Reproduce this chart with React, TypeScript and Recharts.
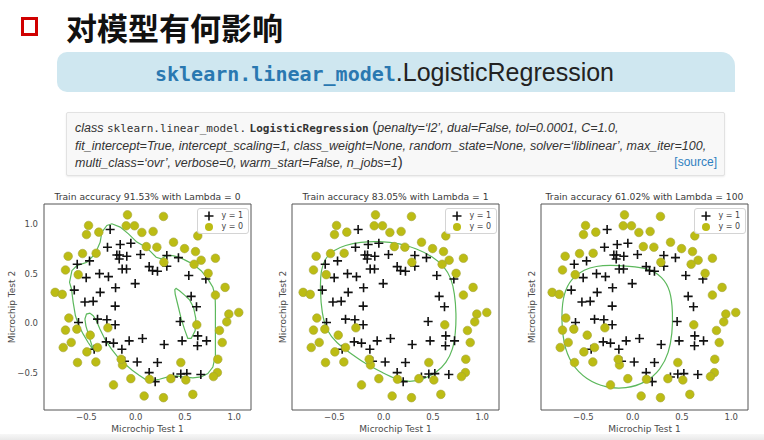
import React from "react";
import { ScatterChart, Scatter, XAxis, YAxis, ReferenceArea, Legend } from "recharts";

// microchip test scores
const acceptedPairs = [
  [-0.259, 0.944], [-0.286, 0.766], [-0.157, 0.793], [-0.049, 0.806], [-0.191, 0.688],
  [-0.164, 0.688], [-0.167, 0.648], [-0.09, 0.675], [0.049, 0.692], [0.137, 0.571],
  [0.171, 0.531], [0.221, 0.524], [0.316, 0.682], [0.316, 0.574], [0.434, 0.661],
  [0.539, 0.481], [0.712, 0.447], [-0.593, 0.594], [-0.468, 0.628], [-0.502, 0.46],
  [-0.367, 0.5], [-0.276, 0.47], [-0.137, 0.547], [-0.093, 0.547], [-0.204, 0.359],
  [-0.005, 0.4], [-0.623, 0.335], [-0.36, 0.312], [-0.515, 0.215], [-0.431, 0.222],
  [-0.208, 0.174], [0.563, 0.272], [0.617, 0.168], [-0.58, 0.01], [-0.387, 0.043],
  [-0.292, 0.037], [-0.208, -0.014], [0.451, 0.02], [0.63, -0.125], [0.719, -0.175],
  [0.627, -0.225], [0.471, -0.175], [0.289, -0.212], [0.069, -0.151], [-0.066, -0.175],
  [-0.225, -0.198], [-0.299, -0.185], [-0.14, -0.259], [-0.421, -0.259], [-0.113, -0.38],
  [0.015, -0.387], [0.221, -0.393], [0.137, -0.494], [0.198, -0.585], [0.383, -0.538],
  [0.458, -0.508], [0.519, -0.504], [0.661, -0.514],
];

const rejectedPairs = [
  [-0.083, 1.091], [0.282, 1.075], [-0.478, 0.984], [-0.499, 0.893], [-0.374, 0.917],
  [-0.096, 0.981], [-0.012, 0.981], [0.063, 0.914], [0.177, 0.924], [0.63, 0.88],
  [-0.685, 0.675], [-0.539, 0.702], [-0.401, 0.705], [0.215, 0.766], [0.108, 0.772],
  [0.384, 0.816], [0.496, 0.752], [0.607, 0.722], [0.664, 0.635], [0.809, 0.655],
  [-0.712, 0.537], [-0.583, 0.49], [0.286, 0.615], [0.593, 0.594], [0.735, 0.503],
  [-0.817, 0.312], [-0.745, 0.292], [0.809, 0.285], [0.907, 0.362], [1.046, 0.11],
  [0.945, 0.094], [0.924, 0.016], [0.85, -0.071], [-0.678, 0.054], [-0.712, -0.067],
  [-0.654, -0.191], [-0.735, -0.242], [-0.461, -0.118], [-0.495, -0.286], [-0.387, -0.242],
  [-0.282, -0.044], [0.62, -0.014], [-0.59, -0.393], [-0.404, -0.387], [-0.134, -0.417],
  [-0.147, -0.36], [0.458, -0.393], [0.833, -0.36], [0.829, -0.494], [0.789, -0.534],
  [0.14, -0.561], [0.357, -0.555], [0.509, -0.568], [-0.225, -0.618], [0.086, -0.729],
  [0.282, -0.746], [0.58, -0.713], [0.878, -0.192], [-0.597, -0.057], [-0.049, -0.555],
];

// decision boundaries (traced)
const boundaryLambda0 = [
  [-0.671, 0.413], [-0.647, 0.53], [-0.596, 0.581], [-0.495, 0.615], [-0.411, 0.699],
  [-0.36, 0.817], [-0.343, 0.917], [-0.292, 0.984], [-0.241, 1.001], [-0.157, 0.968],
  [-0.073, 0.9], [0.012, 0.817], [0.106, 0.766], [0.157, 0.716], [0.208, 0.665],
  [0.259, 0.648], [0.309, 0.681], [0.377, 0.681], [0.444, 0.665], [0.512, 0.631],
  [0.58, 0.598], [0.664, 0.53], [0.732, 0.447], [0.783, 0.363], [0.806, 0.278],
  [0.809, 0.164], [0.809, -0.057], [0.809, -0.32], [0.783, -0.438], [0.732, -0.504],
  [0.664, -0.538], [0.58, -0.548], [0.479, -0.538], [0.411, -0.528], [0.327, -0.538],
  [0.241, -0.561], [0.174, -0.572], [0.106, -0.567], [0.035, -0.521], [-0.035, -0.471],
  [-0.106, -0.41], [-0.177, -0.343], [-0.245, -0.259], [-0.312, -0.158], [-0.363, -0.057],
  [-0.398, 0.026], [-0.431, 0.077], [-0.465, 0.104], [-0.499, 0.094], [-0.515, 0.043],
  [-0.505, -0.024], [-0.475, -0.125], [-0.448, -0.209], [-0.424, -0.276], [-0.482, -0.192],
  [-0.532, -0.108], [-0.576, -0.024], [-0.611, 0.077], [-0.634, 0.212], [-0.651, 0.346],
];
const islandLambda0 = [
  [0.411, 0.352], [0.445, 0.329], [0.502, 0.279], [0.546, 0.238], [0.587, 0.161],
  [0.61, 0.05], [0.603, -0.074], [0.563, -0.151], [0.529, -0.151], [0.495, -0.057],
  [0.461, 0.05], [0.428, 0.185], [0.401, 0.295], [0.397, 0.339],
];
const boundaryLambda1 = [
  [-0.241, 0.819], [-0.038, 0.826], [0.164, 0.803], [0.332, 0.753], [0.501, 0.669],
  [0.619, 0.569], [0.686, 0.453], [0.72, 0.303], [0.737, 0.103], [0.73, -0.097],
  [0.703, -0.264], [0.636, -0.397], [0.535, -0.497], [0.4, -0.564], [0.265, -0.591],
  [0.13, -0.564], [-0.005, -0.497], [-0.173, -0.414], [-0.342, -0.297], [-0.477, -0.197],
  [-0.578, -0.081], [-0.628, 0.103], [-0.645, 0.336], [-0.638, 0.536], [-0.595, 0.653],
  [-0.51, 0.736], [-0.392, 0.786],
];
const boundaryLambda100 = [
  [-0.237, 0.586], [-0.035, 0.576], [0.166, 0.553], [0.301, 0.469], [0.385, 0.336],
  [0.408, 0.103], [0.402, -0.097], [0.368, -0.297], [0.284, -0.464], [0.133, -0.597],
  [-0.069, -0.657], [-0.271, -0.647], [-0.472, -0.564], [-0.623, -0.414], [-0.707, -0.197],
  [-0.724, 0.103], [-0.7, 0.303], [-0.623, 0.453], [-0.489, 0.543], [-0.371, 0.576],
];

const accuracies = ["91.53%", "83.05%", "61.02%"];
const lambdas = ["0", "1", "100"];
const legendOrder = ["y = 1", "y = 0"];
const axisTicks = [-0.5, 0, 0.5, 1.0];
const xDomain = [-0.93, 1.17];
const yDomain = [-0.87, 1.2];

const toPoints = (pairs: number[][]) => pairs.map(([x, y]) => ({ x, y }));
const accepted = toPoints(acceptedPairs);
const rejected = toPoints(rejectedPairs);

const panels = [
  { frameLeft: 44, yTicks: true, yLabelGap: 32, boundaries: [boundaryLambda0, islandLambda0], curve: "linearClosed" },
  { frameLeft: 292, yTicks: false, yLabelGap: 9, boundaries: [boundaryLambda1], curve: "basisClosed" },
  { frameLeft: 541, yTicks: false, yLabelGap: 9, boundaries: [boundaryLambda100], curve: "basisClosed" },
];

const FRAME_TOP = 204;
const FRAME_W = 207;
const FRAME_H = 206;
const Y_AXIS_W = 44;
const X_AXIS_H = 28;
const font = "'DejaVu Sans', sans-serif";
const olive = "#bcbc14";
const green = "#5cb85c";

const fmt = (v: number) => v.toFixed(1).replace("-", "\u2212");

const PlusMark = (props: any) => {
  const { cx, cy } = props;
  return (
    <path
      d={`M${cx - 4.5},${cy}H${cx + 4.5}M${cx},${cy - 4.5}V${cy + 4.5}`}
      stroke="#111"
      strokeWidth={1.6}
    />
  );
};

const DotMark = (props: any) => (
  <circle cx={props.cx} cy={props.cy} r={4.3} fill={olive} stroke="#a4a43a" strokeWidth={0.6} />
);

const LegendBox = (props: any) => {
  // only the two classes, matplotlib order
  const items = legendOrder.filter((name) =>
    (props.payload || []).some((entry: any) => entry.value === name)
  );
  return (
    <div
      style={{
        border: "1px solid #d4d4d4",
        borderRadius: 3,
        background: "rgba(255,255,255,0.9)",
        padding: "1px 5px 1px 5px",
        fontFamily: font,
        fontSize: 8,
        color: "#444",
        lineHeight: "11px",
      }}
    >
      {items.map((name) => (
        <div key={name} style={{ display: "flex", alignItems: "center" }}>
          <svg width={12} height={10} style={{ marginRight: 6 }}>
            {name === "y = 1" ? (
              <path d="M1.5,5H10.5M6,0.5V9.5" stroke="#111" strokeWidth={1.6} />
            ) : (
              <circle cx={6} cy={5} r={4} fill={olive} />
            )}
          </svg>
          {name}
        </div>
      ))}
    </div>
  );
};

function Panel({ index }: { index: number }) {
  const p = panels[index];
  const width = Y_AXIS_W + FRAME_W + 4;
  const height = 2 + FRAME_H + X_AXIS_H;
  return (
    <div style={{ position: "absolute", left: p.frameLeft - Y_AXIS_W, top: FRAME_TOP - 2 }}>
      <ScatterChart width={width} height={height} margin={{ top: 2, right: 4, left: 0, bottom: 0 }}>
        <XAxis
          type="number"
          dataKey="x"
          domain={xDomain}
          ticks={axisTicks}
          allowDataOverflow
          tickFormatter={fmt}
          axisLine={false}
          tickLine={false}
          tickSize={3}
          tickMargin={1}
          height={X_AXIS_H}
          tick={{ fill: "#4a4a4a", fontSize: 8.5, fontFamily: font }}
          label={{ value: "Microchip Test 1", position: "insideBottom", offset: 6, fill: "#4a4a4a", fontSize: 9, fontFamily: font }}
        />
        <YAxis
          type="number"
          dataKey="y"
          domain={yDomain}
          ticks={axisTicks}
          allowDataOverflow
          tickFormatter={fmt}
          axisLine={false}
          tickLine={false}
          tickSize={4}
          tickMargin={2}
          width={Y_AXIS_W}
          tick={p.yTicks ? { fill: "#4a4a4a", fontSize: 8.5, fontFamily: font } : false}
          label={{
            value: "Microchip Test 2",
            angle: -90,
            position: "insideLeft",
            offset: Y_AXIS_W - p.yLabelGap,
            fill: "#4a4a4a",
            fontSize: 9,
            fontFamily: font,
            style: { textAnchor: "middle" },
          }}
        />
        <ReferenceArea x1={xDomain[0]} x2={xDomain[1]} y1={yDomain[0]} y2={yDomain[1]} fill="none" stroke="#555" strokeWidth={1} />
        {p.boundaries.map((b, i) => (
          <Scatter
            key={i}
            data={toPoints(b)}
            line={{ stroke: green, strokeWidth: 1.2 }}
            lineJointType={p.curve as any}
            shape={() => <g />}
            legendType="none"
            isAnimationActive={false}
          />
        ))}
        <Scatter name="y = 1" data={accepted} shape={PlusMark} fill="#111" isAnimationActive={false} />
        <Scatter name="y = 0" data={rejected} shape={DotMark} fill={olive} isAnimationActive={false} />
        <Legend
          layout="vertical"
          align="center"
          verticalAlign="middle"
          content={<LegendBox />}
          wrapperStyle={{ top: 6, right: 6, width: "auto" }}
        />
      </ScatterChart>
      <div
        style={{
          position: "absolute",
          left: Y_AXIS_W - 20,
          width: FRAME_W + 40,
          top: -11,
          textAlign: "center",
          fontFamily: font,
          fontSize: 9.2,
          color: "#3a3a3a",
          whiteSpace: "nowrap",
        }}
      >
        Train accuracy {accuracies[index]} with Lambda = {lambdas[index]}
      </div>
    </div>
  );
}

const mono = "'DejaVu Sans Mono', 'Liberation Mono', monospace";
const sans = "'Liberation Sans', Arial, sans-serif";

export default function App() {
  return (
    <div style={{ position: "absolute", left: 0, top: 0, width: 764, height: 440, background: "#fff", overflow: "hidden" }}>
      <div style={{ position: "absolute", left: 21, top: 17, width: 11, height: 13, border: "3px solid #d00000" }} />
      <div
        style={{
          position: "absolute",
          left: 66,
          top: 7,
          fontFamily: "'Noto Sans CJK SC', sans-serif",
          fontWeight: 700,
          fontSize: 31,
          lineHeight: "40px",
          color: "#111",
        }}
      >
        对模型有何影响
      </div>
      <div
        style={{
          position: "absolute",
          left: 57,
          top: 52,
          width: 678,
          height: 40,
          background: "#cfe7f0",
          borderRadius: "10px 14px 0 10px",
        }}
      />
      <div style={{ position: "absolute", left: 155, top: 57, whiteSpace: "nowrap", lineHeight: "30px" }}>
        <span style={{ fontFamily: mono, fontWeight: 700, fontSize: 20, color: "#2a78b0" }}>sklearn.linear_model</span>
        <span style={{ fontFamily: sans, fontSize: 25, color: "#222" }}>.LogisticRegression</span>
      </div>
      <div
        style={{
          position: "absolute",
          left: 66,
          top: 112,
          width: 657,
          height: 62,
          background: "#f8f8f8",
          border: "1px solid #e2e2e2",
          borderRadius: 2,
          boxShadow: "0 1px 2px rgba(0,0,0,0.08)",
        }}
      />
      <div
        style={{
          position: "absolute",
          left: 75,
          top: 119,
          width: 642,
          fontFamily: sans,
          fontStyle: "italic",
          fontSize: 12.5,
          lineHeight: "16.5px",
          color: "#333",
          whiteSpace: "nowrap",
        }}
      >
        <div>
          class{" "}
          <span style={{ fontFamily: mono, fontStyle: "normal", fontSize: 11 }}>sklearn.linear_model.</span>{" "}
          <span style={{ fontFamily: mono, fontStyle: "normal", fontWeight: 700, fontSize: 11 }}>LogisticRegression</span>{" "}
          <span style={{ fontStyle: "normal", fontSize: 15 }}>(</span>penalty=‘l2’, dual=False, tol=0.0001, C=1.0,
        </div>
        <div>
          fit_intercept=True, intercept_scaling=1, class_weight=None, random_state=None, solver=‘liblinear’, max_iter=100,
        </div>
        <div style={{ display: "flex", justifyContent: "space-between" }}>
          <span>
            multi_class=‘ovr’, verbose=0, warm_start=False, n_jobs=1<span style={{ fontStyle: "normal", fontSize: 15 }}>)</span>
          </span>
          <span style={{ fontStyle: "normal", color: "#2f80c0", fontSize: 12 }}>[source]</span>
        </div>
      </div>
      {panels.map((_, i) => (
        <Panel key={i} index={i} />
      ))}
      <div
        style={{
          position: "absolute",
          left: 0,
          top: 434,
          width: 764,
          height: 6,
          background: "linear-gradient(#f7f7f7, #e9e9e9)",
        }}
      />
    </div>
  );
}
